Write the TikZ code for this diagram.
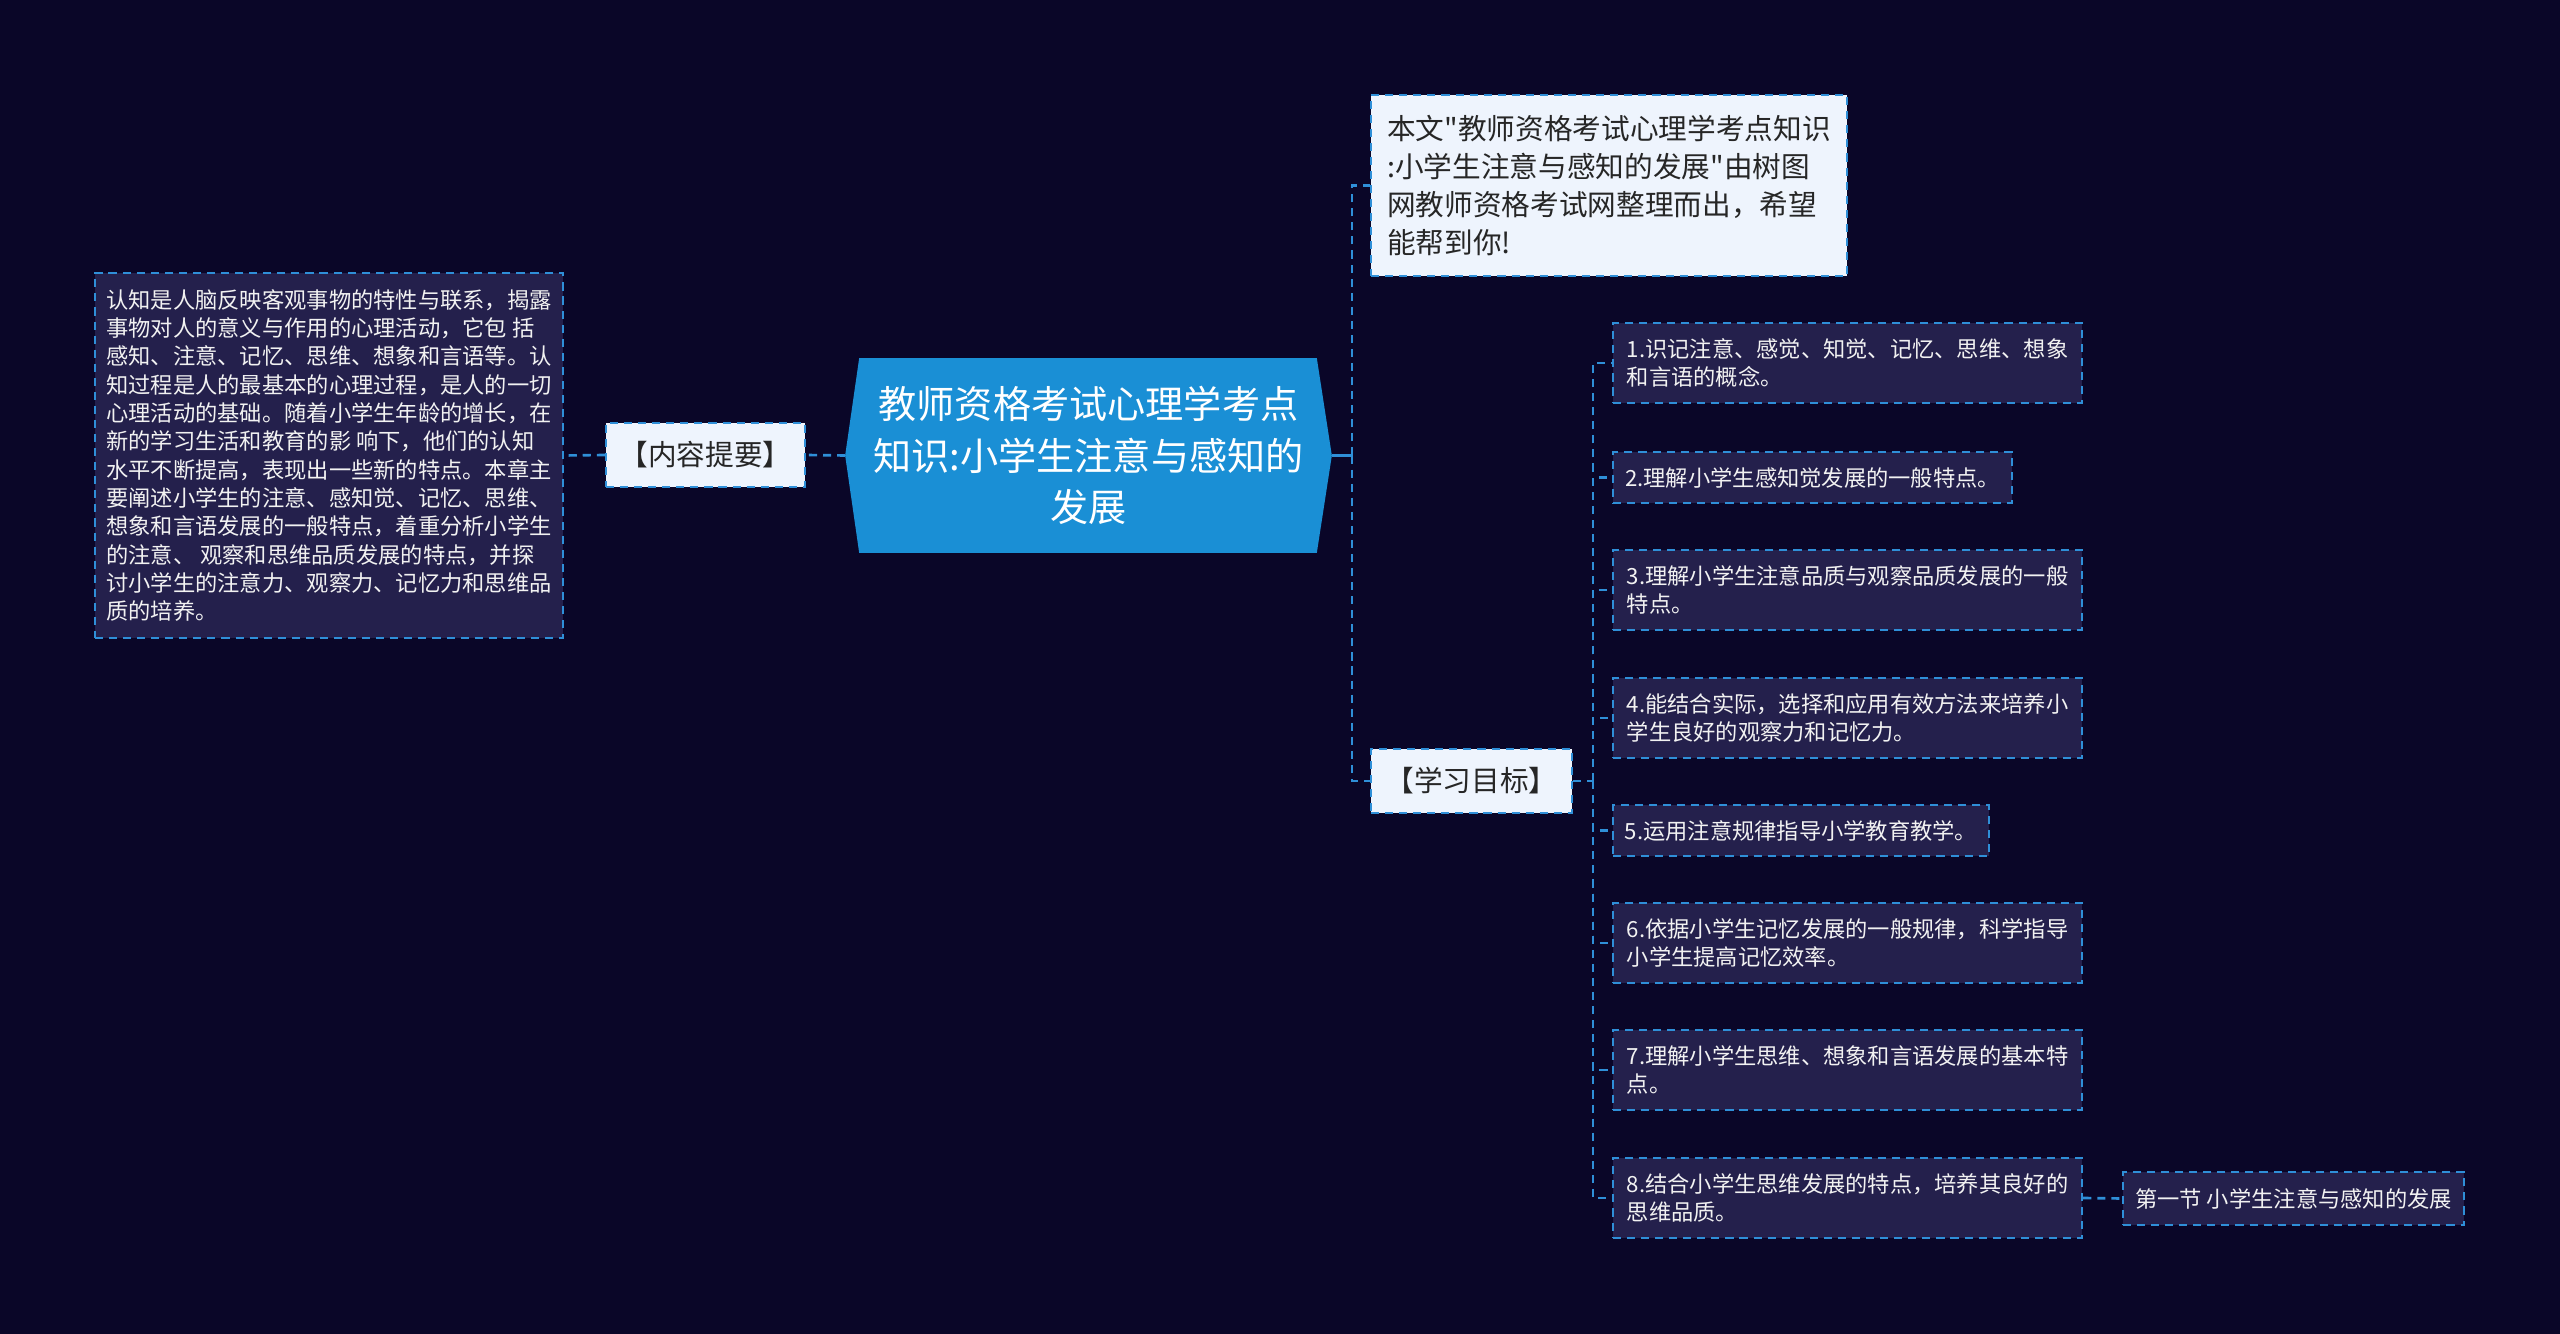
\documentclass[tikz,border=0pt]{standalone}
\usepackage{fontspec}
\newfontfamily\cjk{Noto Sans CJK SC}
\usetikzlibrary{backgrounds,calc}
\definecolor{bgc}{HTML}{0A0628}
\definecolor{hexc}{HTML}{1A8FD5}
\definecolor{itemc}{HTML}{24204C}
\definecolor{lightc}{HTML}{EEF4FD}
\definecolor{linec}{HTML}{2F8FD8}
\definecolor{darktext}{HTML}{262626}
\definecolor{lighttext}{HTML}{F2F2F2}
\newcommand\fsS{\fontsize{6.33pt}{8.05pt}\selectfont}
\newcommand\fsM{\fontsize{8.15pt}{10.8pt}\selectfont}
\newcommand\fsL{\fontsize{10.85pt}{14.6pt}\selectfont}
\begin{document}
\begin{tikzpicture}[x=0.01cm,y=-0.01cm,
  dashline/.style={draw=linec, line width=0.6pt, dash pattern=on 2.3pt off 1.7pt},
  darkbox/.style={dashline, fill=itemc, text=lighttext, align=left, inner sep=0pt, font=\cjk\fsS},
  lightbox/.style={dashline, fill=lightc, text=darktext, align=left, inner sep=0pt, font=\cjk\fsM},
  hexnode/.style={minimum width=4.85cm, minimum height=1.93cm, align=center, text=white, font=\cjk\fsL, inner sep=0pt},
  conn/.style={draw=linec, line width=0.75pt, dash pattern=on 2.3pt off 1.7pt},
  solidconn/.style={draw=linec, line width=0.75pt},
  wide/.style={minimum width=4.69cm},
  two/.style={minimum height=0.80cm},
  one/.style={minimum height=0.51cm}
]
\useasboundingbox (0,0) rectangle (2560,1334);

% central node
\node[hexnode] (c) at (1088.5,455.5) {教师资格考试心理学考点\\知识:小学生注意与感知的\\发展};

% left side
\node[lightbox, minimum width=1.99cm, minimum height=0.64cm] (sum) at (705.5,455) {【内容提要】};
\node[darkbox, minimum width=4.68cm, minimum height=3.65cm] (sumtext) at (329,455.5) {认知是人脑反映客观事物的特性与联系，揭露\\事物对人的意义与作用的心理活动，它包 括\\感知、注意、记忆、思维、想象和言语等。认\\知过程是人的最基本的心理过程，是人的一切\\心理活动的基础。随着小学生年龄的增长，在\\新的学习生活和教育的影 响下，他们的认知\\水平不断提高，表现出一些新的特点。本章主\\要阐述小学生的注意、感知觉、记忆、思维、\\想象和言语发展的一般特点，着重分析小学生\\的注意、 观察和思维品质发展的特点，并探\\讨小学生的注意力、观察力、记忆力和思维品\\质的培养。};

% right side
\node[lightbox, minimum width=4.76cm, minimum height=1.81cm] (note) at (1609,185.5) {本文"教师资格考试心理学考点知识\\:小学生注意与感知的发展"由树图\\网教师资格考试网整理而出，希望\\能帮到你!};
\node[lightbox, minimum width=2.01cm, minimum height=0.64cm] (goal) at (1471.5,781) {【学习目标】};

\node[darkbox, wide, two] (i1) at (1847.5,363) {1.识记注意、感觉、知觉、记忆、思维、想象\\和言语的概念。};
\node[darkbox, minimum width=3.99cm, one] (i2) at (1812.5,477.5) {2.理解小学生感知觉发展的一般特点。};
\node[darkbox, wide, two] (i3) at (1847.5,590) {3.理解小学生注意品质与观察品质发展的一般\\特点。};
\node[darkbox, wide, two] (i4) at (1847.5,718) {4.能结合实际，选择和应用有效方法来培养小\\学生良好的观察力和记忆力。};
\node[darkbox, minimum width=3.76cm, one] (i5) at (1801,830.5) {5.运用注意规律指导小学教育教学。};
\node[darkbox, wide, two] (i6) at (1847.5,943) {6.依据小学生记忆发展的一般规律，科学指导\\小学生提高记忆效率。};
\node[darkbox, wide, two] (i7) at (1847.5,1070) {7.理解小学生思维、想象和言语发展的基本特\\点。};
\node[darkbox, wide, two] (i8) at (1847.5,1198) {8.结合小学生思维发展的特点，培养其良好的\\思维品质。};
\node[darkbox, minimum width=3.41cm, minimum height=0.53cm] (sec) at (2293.5,1198.5) {第一节 小学生注意与感知的发展};

% connectors
\coordinate (t1) at (1352,455.5);
\coordinate (t2) at (1593,781);
\draw[solidconn] (c.east) -- (t1);
\draw[conn] (t1) |- (note.west);
\draw[conn] (t1) |- (goal.west);
\draw[conn] (c.west) -- (sum.east);
\draw[conn] (sum.west) -- (sumtext.east);
\draw[conn] (goal.east) -- (t2);
\foreach \i in {1,...,8} {\draw[conn] (t2) |- (i\i.west);}
\draw[conn] (i8.east) -- (sec.west);

\begin{scope}[on background layer]
\fill[bgc] (0,0) rectangle (2560,1334);
\fill[hexc] (c.west) -- ([xshift=0.14cm]c.north west) -- ([xshift=-0.15cm]c.north east) -- (c.east) -- ([xshift=-0.15cm]c.south east) -- ([xshift=0.14cm]c.south west) -- cycle;
\end{scope}
\end{tikzpicture}
\end{document}
